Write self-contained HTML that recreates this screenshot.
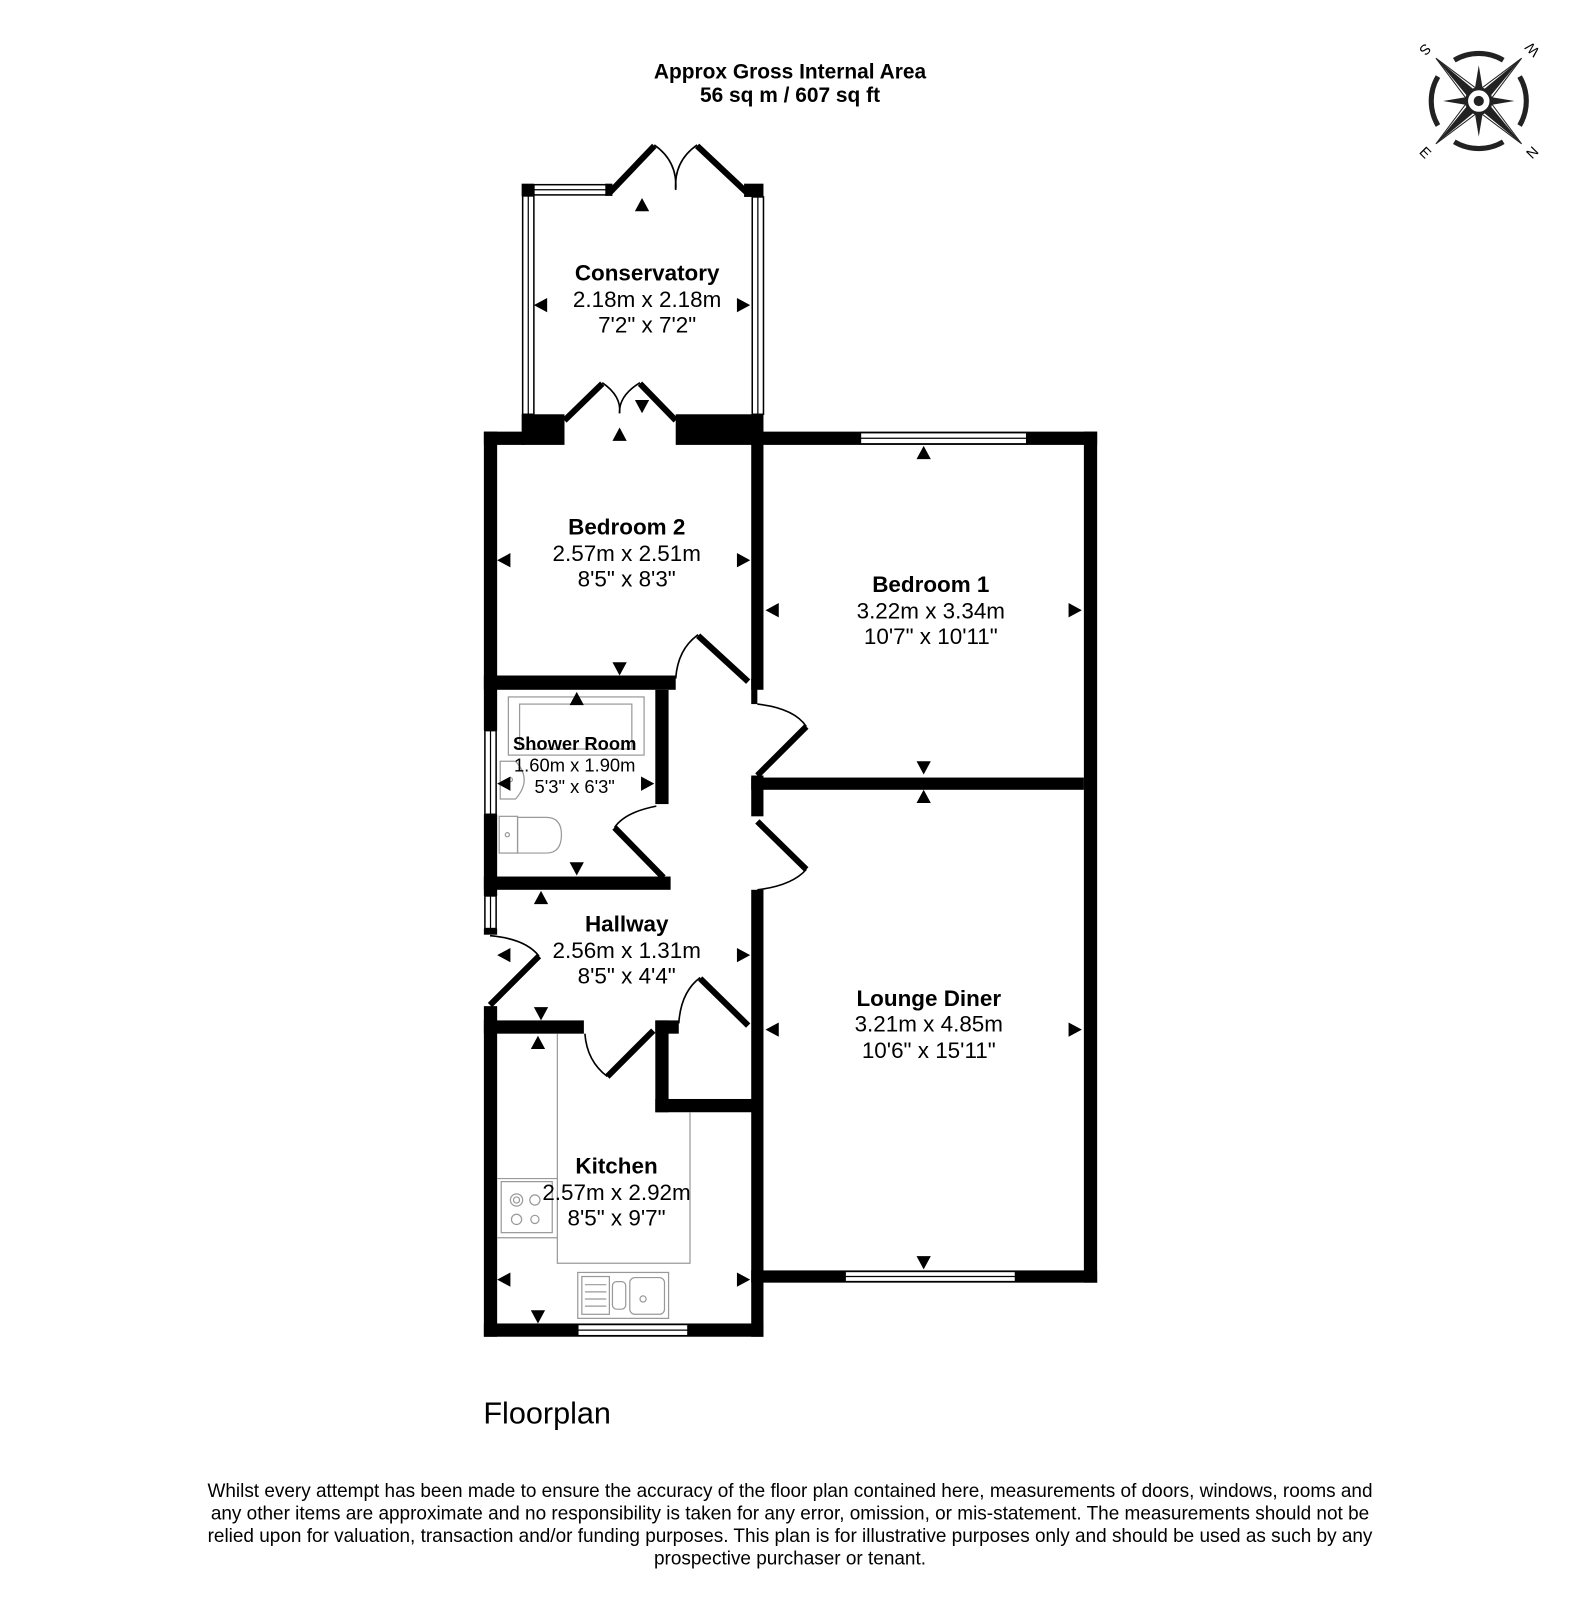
<!DOCTYPE html>
<html><head><meta charset="utf-8">
<style>
html,body{margin:0;padding:0;background:#fff;}
svg{display:block;}
text{font-family:"Liberation Sans",Arial,sans-serif;fill:#000;}
.b{font-weight:bold;}
.w{fill:#000;}
.thin{fill:none;stroke:#999;stroke-width:1.2;}
.leaf{stroke:#000;stroke-width:6;fill:none;}
.arc{stroke:#000;stroke-width:1.6;fill:none;}
.win{fill:#fff;stroke:#000;stroke-width:1.5;}
</style></head>
<body>
<svg width="1580" height="1600" viewBox="0 0 1548 1568" xmlns="http://www.w3.org/2000/svg">
<rect width="1548" height="1568" fill="#fff"/>
<text x="774" y="77" font-size="20.5" class="b" text-anchor="middle">Approx Gross Internal Area</text>
<text x="774" y="100" font-size="20.5" class="b" text-anchor="middle">56 sq m / 607 sq ft</text>

<!-- compass -->
<g transform="translate(1449,99)">
  <g fill="none" stroke="#222" stroke-width="5">
    <path d="M -24 -40 A 47 47 0 0 1 24 -40"/>
    <path d="M 40 -24 A 47 47 0 0 1 40 24"/>
    <path d="M 24 40 A 47 47 0 0 1 -24 40"/>
    <path d="M -40 24 A 47 47 0 0 1 -40 -24"/>
  </g>
  <g fill="#222">
    <polygon points="0,-35 5,-5 0,0 -5,-5"/>
    <polygon points="0,35 5,5 0,0 -5,5"/>
    <polygon points="-35,0 -5,5 0,0 -5,-5"/>
    <polygon points="35,0 5,5 0,0 5,-5"/>
    <polygon points="-42,-42 -2,-9 0,0 -9,-2"/>
    <polygon points="42,-42 2,-9 0,0 9,-2"/>
    <polygon points="-42,42 -2,9 0,0 -9,2"/>
    <polygon points="42,42 2,9 0,0 9,2"/>
  </g>
  <g fill="none" stroke="#222" stroke-width="1">
    <polygon points="-42,-42 -9,2 0,0 2,-9"/>
    <polygon points="42,-42 9,2 0,0 -2,-9"/>
    <polygon points="-42,42 -9,-2 0,0 2,9"/>
    <polygon points="42,42 9,-2 0,0 -2,9"/>
  </g>
  <circle r="12" fill="#fff" stroke="#222" stroke-width="3"/>
  <circle r="5" fill="#222"/>
  <text x="-53" y="-47" font-size="14" text-anchor="middle" transform="rotate(135,-53,-51)">S</text>
  <text x="53" y="-47" font-size="14" text-anchor="middle" transform="rotate(-135,53,-51)">W</text>
  <text x="-53" y="55" font-size="14" text-anchor="middle" transform="rotate(45,-53,51)">E</text>
  <text x="53" y="55" font-size="14" text-anchor="middle" transform="rotate(-45,53,51)">N</text>
</g>

<!-- Conservatory -->
<rect class="w" x="511" y="180" width="12" height="12"/>
<rect class="win" x="512" y="192" width="11" height="214"/>
<line x1="517.5" y1="192" x2="517.5" y2="406" stroke="#000" stroke-width="1.2"/>
<rect class="win" x="523" y="181" width="71" height="10"/>
<line x1="523" y1="186" x2="594" y2="186" stroke="#000" stroke-width="1.2"/>
<rect class="w" x="593" y="180" width="7" height="12"/>
<line class="leaf" x1="598" y1="188" x2="641" y2="143"/>
<path class="arc" d="M 641 142 Q 664 158 662 186"/>
<path class="arc" d="M 683 142 Q 660 158 662 186"/>
<line class="leaf" x1="683" y1="143" x2="731" y2="188"/>
<rect class="w" x="729" y="180" width="19" height="13"/>
<rect class="win" x="737" y="193" width="11" height="213"/>
<line x1="742.5" y1="193" x2="742.5" y2="406" stroke="#000" stroke-width="1.2"/>

<!-- conservatory bottom / bed2 top -->
<rect class="w" x="511" y="406" width="42" height="30"/>
<line class="leaf" x1="553" y1="412" x2="590" y2="376"/>
<path class="arc" d="M 590 375 Q 609 388 607 405"/>
<path class="arc" d="M 627 375 Q 606 388 607 405"/>
<line class="leaf" x1="627" y1="376" x2="662" y2="412"/>
<rect class="w" x="662" y="406" width="86" height="30"/>
<rect class="w" x="474" y="423" width="40" height="13"/>

<!-- Bedroom 1 walls -->
<rect class="w" x="748" y="423" width="327" height="13"/>
<rect class="win" x="843" y="424" width="163" height="11"/>
<line x1="843" y1="429.5" x2="1006" y2="429.5" stroke="#000" stroke-width="1.2"/>
<rect class="w" x="1062" y="423" width="13" height="834"/>
<rect class="w" x="736" y="762" width="326" height="12"/>
<rect class="w" x="736" y="1245" width="339" height="12"/>
<rect class="win" x="828" y="1246" width="167" height="10"/>
<line x1="828" y1="1251" x2="995" y2="1251" stroke="#000" stroke-width="1.2"/>

<!-- central wall -->
<rect class="w" x="736" y="423" width="12" height="253"/>
<rect class="w" x="736" y="665" width="6" height="25"/>
<rect class="w" x="736" y="760" width="12" height="40"/>
<rect class="w" x="736" y="872" width="12" height="438"/>
<line class="leaf" x1="684" y1="623" x2="733" y2="668"/>
<path class="arc" d="M 684 622 Q 664 636 662 665"/>
<line class="leaf" x1="742" y1="760" x2="790" y2="712"/>
<path class="arc" d="M 742 690 Q 778 694 790 712"/>
<line class="leaf" x1="742" y1="805" x2="790" y2="852"/>
<path class="arc" d="M 790 852 Q 776 868 742 872"/>

<!-- left outer wall -->
<rect class="w" x="474" y="423" width="13" height="293"/>
<rect class="win" x="475" y="716" width="11" height="82"/>
<line x1="480.5" y1="716" x2="480.5" y2="798" stroke="#000" stroke-width="1.2"/>
<rect class="w" x="474" y="798" width="13" height="80"/>
<rect class="win" x="475" y="878" width="11" height="32"/>
<line x1="480.5" y1="878" x2="480.5" y2="910" stroke="#000" stroke-width="1.2"/>
<rect class="w" x="474" y="910" width="13" height="6"/>
<line class="leaf" x1="480" y1="985" x2="528" y2="937"/>
<path class="arc" d="M 480 917 Q 515 920 528 937"/>
<rect class="w" x="474" y="986" width="13" height="324"/>

<!-- bed2 bottom / shower -->
<rect class="w" x="474" y="662" width="188" height="14"/>
<rect class="w" x="642" y="676" width="13" height="112"/>
<path class="arc" d="M 643 790 Q 612 796 602 811"/>
<line class="leaf" x1="602" y1="811" x2="650" y2="860"/>
<rect class="w" x="474" y="859" width="183" height="13"/>

<!-- shower fixtures -->
<rect class="thin" x="498" y="683" width="133" height="57"/>
<rect class="thin" x="509" y="690" width="110" height="44"/>
<path class="thin" d="M 490 746 L 505 746 Q 522 764 505 783 L 490 783 Z"/>
<circle class="thin" cx="500" cy="764" r="2"/>
<rect class="thin" x="489" y="800" width="18" height="36"/>
<path class="thin" d="M 507 801 L 535 801 Q 550 801 550 818 Q 550 836 535 836 L 507 836 Z"/>
<circle class="thin" cx="497" cy="818" r="2"/>

<!-- hallway / kitchen -->
<rect class="w" x="474" y="1000" width="98" height="13"/>
<path class="arc" d="M 573 1013 Q 575 1040 595 1055"/>
<line class="leaf" x1="595" y1="1055" x2="640" y2="1010"/>
<rect class="w" x="642" y="1000" width="23" height="13"/>
<rect class="w" x="642" y="1000" width="13" height="90"/>
<rect class="w" x="642" y="1077" width="100" height="13"/>
<line class="leaf" x1="686" y1="959" x2="733" y2="1005"/>
<path class="arc" d="M 686 958 Q 667 972 665 1003"/>
<rect class="w" x="474" y="1297" width="274" height="13"/>
<rect class="win" x="566" y="1298" width="108" height="11"/>
<line x1="566" y1="1303.5" x2="674" y2="1303.5" stroke="#000" stroke-width="1.2"/>

<!-- kitchen fittings -->
<path class="thin" d="M 546 1013 L 546 1238 L 676 1238 L 676 1090"/>
<line class="thin" x1="487" y1="1213" x2="546" y2="1213"/>
<line class="thin" x1="487" y1="1155" x2="546" y2="1155"/>
<rect class="thin" x="491" y="1158" width="50" height="50"/>
<circle class="thin" cx="506" cy="1176" r="6"/><circle class="thin" cx="506" cy="1176" r="3"/>
<circle class="thin" cx="524" cy="1176" r="5"/>
<circle class="thin" cx="506" cy="1195" r="5"/>
<circle class="thin" cx="524" cy="1195" r="4"/>
<rect class="thin" x="566" y="1247" width="89" height="45"/>
<rect class="thin" x="570" y="1251" width="27" height="37"/>
<line class="thin" x1="573" y1="1259" x2="594" y2="1259"/>
<line class="thin" x1="573" y1="1266" x2="594" y2="1266"/>
<line class="thin" x1="573" y1="1273" x2="594" y2="1273"/>
<line class="thin" x1="573" y1="1280" x2="594" y2="1280"/>
<rect class="thin" x="600" y="1256" width="13" height="27" rx="4"/>
<rect class="thin" x="617" y="1252" width="34" height="36" rx="5"/>
<circle class="thin" cx="630" cy="1273" r="3"/>

<!-- arrows -->
<defs>
<polygon id="up" points="-7,6 7,6 0,-7"/>
<polygon id="dn" points="-7,-6 7,-6 0,7"/>
<polygon id="lf" points="6,-7 6,7 -7,0"/>
<polygon id="rt" points="-6,-7 -6,7 7,0"/>
</defs>
<g fill="#000">
<use href="#up" x="629" y="201"/>
<use href="#lf" x="530" y="299"/>
<use href="#rt" x="728" y="299"/>
<use href="#dn" x="629" y="398"/>
<use href="#up" x="607" y="426"/>
<use href="#lf" x="494" y="549"/>
<use href="#rt" x="728" y="549"/>
<use href="#dn" x="607" y="655"/>
<use href="#up" x="905" y="444"/>
<use href="#lf" x="757" y="598"/>
<use href="#rt" x="1053" y="598"/>
<use href="#dn" x="905" y="752"/>
<use href="#up" x="905" y="781"/>
<use href="#lf" x="757" y="1009"/>
<use href="#rt" x="1053" y="1009"/>
<use href="#dn" x="905" y="1237"/>
<use href="#up" x="565" y="685"/>
<use href="#lf" x="494" y="768"/>
<use href="#rt" x="634" y="768"/>
<use href="#dn" x="565" y="851"/>
<use href="#up" x="530" y="880"/>
<use href="#lf" x="494" y="936"/>
<use href="#rt" x="728" y="936"/>
<use href="#dn" x="530" y="993"/>
<use href="#up" x="527" y="1022"/>
<use href="#lf" x="494" y="1254"/>
<use href="#rt" x="728" y="1254"/>
<use href="#dn" x="527" y="1290"/>
</g>

<!-- labels -->
<g text-anchor="middle" font-size="22">
<text x="634" y="275" class="b">Conservatory</text>
<text x="634" y="301">2.18m x 2.18m</text>
<text x="634" y="326">7'2" x 7'2"</text>
<text x="614" y="524" class="b">Bedroom 2</text>
<text x="614" y="550">2.57m x 2.51m</text>
<text x="614" y="575">8'5" x 8'3"</text>
<text x="912" y="580" class="b">Bedroom 1</text>
<text x="912" y="606">3.22m x 3.34m</text>
<text x="912" y="631">10'7" x 10'11"</text>
<text x="614" y="913" class="b">Hallway</text>
<text x="614" y="939">2.56m x 1.31m</text>
<text x="614" y="964">8'5" x 4'4"</text>
<text x="910" y="986" class="b">Lounge Diner</text>
<text x="910" y="1011">3.21m x 4.85m</text>
<text x="910" y="1037">10'6" x 15'11"</text>
<text x="604" y="1150" class="b">Kitchen</text>
<text x="604" y="1176">2.57m x 2.92m</text>
<text x="604" y="1201">8'5" x 9'7"</text>
</g>
<g text-anchor="middle" font-size="18">
<text x="563" y="735" class="b">Shower Room</text>
<text x="563" y="756">1.60m x 1.90m</text>
<text x="563" y="777">5'3" x 6'3"</text>
</g>

<text x="536" y="1395" font-size="30" text-anchor="middle">Floorplan</text>
<g text-anchor="middle" font-size="18.6">
<text x="774" y="1467">Whilst every attempt has been made to ensure the accuracy of the floor plan contained here, measurements of doors, windows, rooms and</text>
<text x="774" y="1489">any other items are approximate and no responsibility is taken for any error, omission, or mis-statement. The measurements should not be</text>
<text x="774" y="1511">relied upon for valuation, transaction and/or funding purposes. This plan is for illustrative purposes only and should be used as such by any</text>
<text x="774" y="1533">prospective purchaser or tenant.</text>
</g>
</svg>
</body></html>
